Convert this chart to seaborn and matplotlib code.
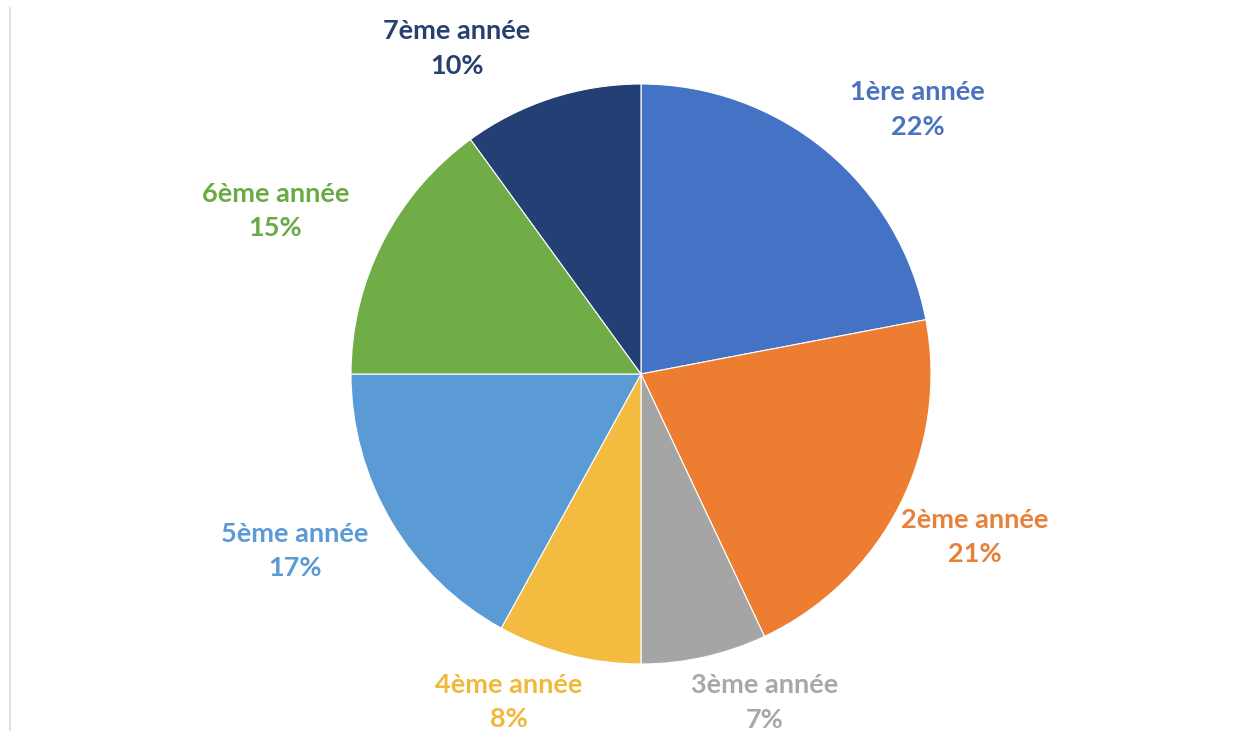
import numpy as np
import matplotlib.pyplot as plt
import seaborn as sns
from matplotlib.lines import Line2D

# Données du graphique
annees = ["1ère année", "2ème année", "3ème année", "4ème année",
          "5ème année", "6ème année", "7ème année"]
pourcentages = [22, 21, 7, 8, 17, 15, 10]
couleurs = ["#4472C4", "#ED7D31", "#A5A5A5", "#F3BB3F",
            "#5B9BD5", "#70AD47", "#233F74"]
couleurs_texte = ["#4A72C0", "#E8803A", "#A8A8A8", "#F0B93A",
                  "#5B9BD5", "#6AAA45", "#27406F"]

# position des étiquettes (distance relative au rayon, décalage d'angle en degrés)
dist_labels = [1.32, 1.28, 1.21, 1.22, 1.34, 1.38, 1.29]
decal_angle = [-6.7, 1.0, 8.0, -7.5, -3.5, 3.0, 11.5]

sns.set_theme(style="white")
plt.rcParams['font.family'] = ['Lato', 'DejaVu Sans']

W, H = 1259, 731
fig = plt.figure(figsize=(W / 100, H / 100), dpi=100)
ax = fig.add_axes([0, 0, 1, 1])

cx, cy, r = 641, H - 374, 290
wedges, _ = ax.pie(pourcentages, colors=sns.color_palette(couleurs), startangle=90,
                   counterclock=False, center=(cx, cy), radius=r,
                   wedgeprops=dict(edgecolor="white", linewidth=0.8))

for w, lab, val, col, d, da in zip(wedges, annees, pourcentages, couleurs_texte,
                                   dist_labels, decal_angle):
    ang = np.deg2rad((w.theta1 + w.theta2) / 2 + da)
    ax.text(cx + d * r * np.cos(ang), cy + d * r * np.sin(ang),
            f"{lab}\n{val}%", ha="center", va="center", color=col,
            fontsize=19.5, fontweight="bold", linespacing=1.52)

ax.set_xlim(0, W)
ax.set_ylim(0, H)
ax.set_aspect("equal")
ax.axis("off")

# fine ligne grise à gauche
fig.add_artist(Line2D([10.5 / W, 10.5 / W], [0, 1 - 8 / H], color="#E2E2E2",
                      linewidth=1.5, transform=fig.transFigure))

fig.savefig("out.png", dpi=100, facecolor="white")
